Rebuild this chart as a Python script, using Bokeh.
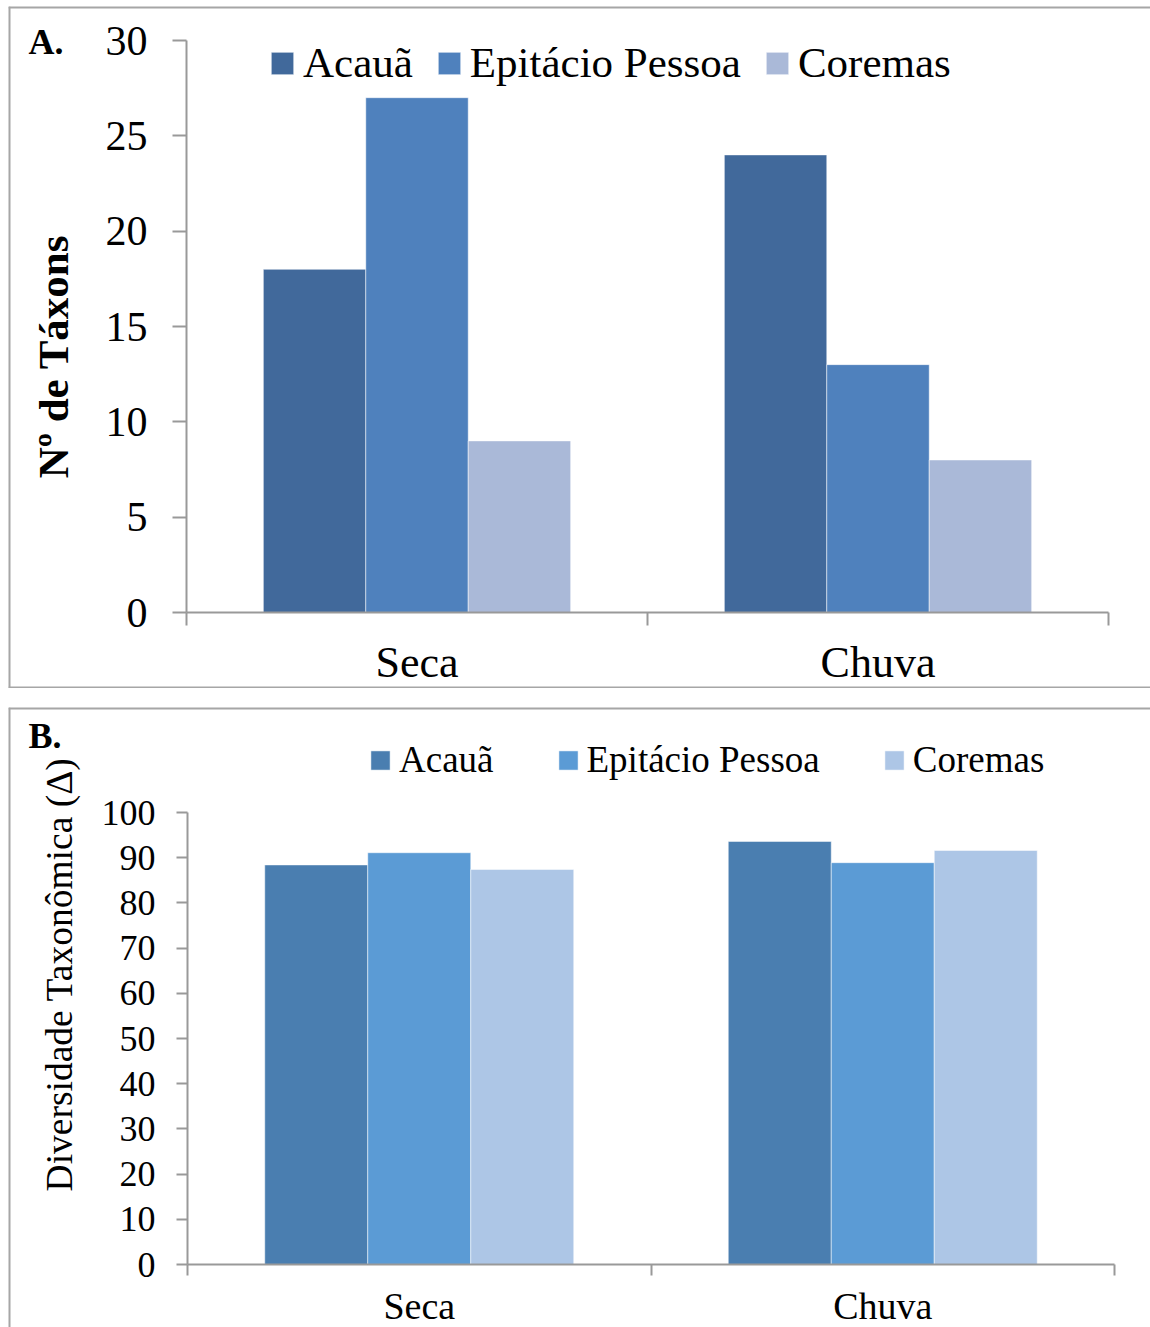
import math
from bokeh.plotting import figure
from bokeh.models import (Range1d, LinearAxis, FixedTicker, SingleIntervalTicker, Label,
                          ColumnDataSource, Spacer, Span)
from bokeh.transform import dodge
from bokeh.layouts import column, row
from bokeh.embed import file_html
from bokeh.resources import INLINE

# ---------------- data ----------------
seasons = ["Seca", "Chuva"]
sites = ["Acauã", "Epitácio Pessoa", "Coremas"]

taxa_acaua = [18, 24]
taxa_epitacio = [27, 13]
taxa_coremas = [9, 8]

div_acaua = [88.4, 93.6]
div_epitacio = [91.1, 88.9]
div_coremas = [87.4, 91.6]

colors_a = ["#41699b", "#4f81bd", "#aab9d8"]
colors_b = ["#4a7eb0", "#5b9bd5", "#adc6e6"]

FONT = "Liberation Serif"
GRAY = "#999999"
BORDER_COLOR = "#a6a6a6"


def make_panel(series, colors, y_end, interval, canvas, borders, axis_px, fs_tick, fs_x,
               fs_leg, fs_ylab, tick_len, ylab_std, xlab_std, leg_glyph_x0, leg_bottom,
               leg_glyph, leg_std, leg_spacing, tag, tag_xy, ylabel, ylabel_xy, ylabel_bold):
    cx0, cy0, W, H = canvas
    x0px, xNpx, y0px, yEpx = axis_px
    n = len(seasons)
    sx = (xNpx - x0px) / n
    sy = (y0px - yEpx) / y_end
    x_range = Range1d((cx0 - x0px) / sx, n + (cx0 + W - xNpx) / sx)
    y_range = Range1d(-(cy0 + H - y0px) / sy, y_end + (yEpx - cy0) / sy)
    fb = cy0 + H  # frame bottom (absolute)

    p = figure(width=W, height=H, x_range=x_range, y_range=y_range,
               title=None, output_backend="svg", toolbar_location=None,
               x_axis_location=None, y_axis_location=None, min_border=0)
    for g in p.grid:
        g.visible = False
    p.outline_line_color = None

    # panel border (drawn on the edges of the plot area)
    edges = {"left": (x_range.start, "height"), "top": (y_range.end, "width"),
             "bottom": (y_range.start, "width")}
    for side in borders:
        loc, dim = edges[side]
        p.add_layout(Span(location=loc, dimension=dim, line_color=BORDER_COLOR, line_width=4))

    centers = [i + 0.5 for i in range(n)]
    src = ColumnDataSource(dict(xc=centers, s0=series[0], s1=series[1], s2=series[2]))
    w = 2 / 9
    for i, (col, name) in enumerate(zip(["s0", "s1", "s2"], sites)):
        p.vbar(x=dodge("xc", (i - 1) * w), top=col, width=w,
               source=src, fill_color=colors[i], line_color="white", line_alpha=0.5,
               line_width=1, legend_label=name)

    # y axis
    yaxis = LinearAxis(fixed_location=0, bounds=(0, y_end),
                       ticker=SingleIntervalTicker(interval=interval, num_minor_ticks=0),
                       major_tick_out=tick_len[0], major_tick_in=0,
                       minor_tick_line_color=None,
                       axis_line_color=GRAY, axis_line_width=2,
                       major_tick_line_color=GRAY, major_tick_line_width=2,
                       major_label_standoff=ylab_std,
                       major_label_text_font=FONT, major_label_text_font_size=f"{fs_tick}px",
                       major_label_text_color="black")
    p.add_layout(yaxis, "left")

    # x axis line with ticks at the category boundaries
    tick_axis = LinearAxis(fixed_location=0, bounds=(0, n),
                           ticker=FixedTicker(ticks=list(range(n + 1)), minor_ticks=[]),
                           major_tick_out=tick_len[1], major_tick_in=0,
                           minor_tick_line_color=None,
                           axis_line_color=GRAY, axis_line_width=2,
                           major_tick_line_color=GRAY, major_tick_line_width=2,
                           major_label_text_font_size="1px", major_label_text_color=None)
    p.add_layout(tick_axis, "below")
    # category labels at the category centres
    label_axis = LinearAxis(fixed_location=0,
                            ticker=FixedTicker(ticks=centers, minor_ticks=[]),
                            major_label_overrides={c: s for c, s in zip(centers, seasons)},
                            axis_line_color=None, major_tick_line_color=None,
                            minor_tick_line_color=None,
                            major_tick_out=0, major_tick_in=0,
                            major_label_standoff=xlab_std,
                            major_label_text_font=FONT,
                            major_label_text_font_size=f"{fs_x}px",
                            major_label_text_color="black")
    p.add_layout(label_axis, "below")

    leg = p.legend[0]
    leg.orientation = "horizontal"
    leg.location = (leg_glyph_x0 - cx0, fb - leg_bottom)
    leg.glyph_width = leg_glyph
    leg.glyph_height = leg_glyph
    leg.label_standoff = leg_std
    leg.spacing = leg_spacing
    leg.padding = 0
    leg.margin = 0
    leg.border_line_color = None
    leg.background_fill_alpha = 0
    leg.label_text_font = FONT
    leg.label_text_font_size = f"{fs_leg}px"
    leg.label_text_color = "black"

    p.add_layout(Label(x=tag_xy[0] - cx0, y=fb - tag_xy[1], x_units="screen", y_units="screen",
                       text=tag, text_font=FONT, text_font_style="bold",
                       text_font_size="36px", text_baseline="middle",
                       text_color="black"))
    p.add_layout(Label(x=ylabel_xy[0] - cx0, y=fb - ylabel_xy[1], x_units="screen",
                       y_units="screen", text=ylabel, angle=math.pi / 2, text_align="center",
                       text_baseline="middle", text_font=FONT,
                       text_font_style="bold" if ylabel_bold else "normal",
                       text_font_size=f"{fs_ylab}px", text_color="black"))
    return p


pA = make_panel([taxa_acaua, taxa_epitacio, taxa_coremas], colors_a, 30, 5,
                canvas=(8, 6, 1142, 682), borders=("left", "top", "bottom"),
                axis_px=(186, 1108, 612, 40),
                fs_tick=42, fs_x=44, fs_leg=43, fs_ylab=43, tick_len=(14, 13),
                ylab_std=25, xlab_std=25, leg_glyph_x0=268, leg_bottom=87, leg_glyph=28,
                leg_std=7, leg_spacing=22, tag="A.", tag_xy=(28, 41),
                ylabel="Nº de Táxons", ylabel_xy=(53, 356), ylabel_bold=True)

pB = make_panel([div_acaua, div_epitacio, div_coremas], colors_b, 100, 10,
                canvas=(8, 707, 1142, 620), borders=("left", "top"),
                axis_px=(187, 1114, 1264, 812),
                fs_tick=36, fs_x=38, fs_leg=37, fs_ylab=37.5, tick_len=(11, 11),
                ylab_std=21, xlab_std=20, leg_glyph_x0=368, leg_bottom=781, leg_glyph=24,
                leg_std=7, leg_spacing=62, tag="B.", tag_xy=(28, 735),
                ylabel="Diversidade Taxonômica (Δ)", ylabel_xy=(59, 974), ylabel_bold=False)

layout = row(Spacer(width=8),
             column(Spacer(height=6), pA, Spacer(height=19), pB))
open("out.html", "w").write(file_html(layout, INLINE))
